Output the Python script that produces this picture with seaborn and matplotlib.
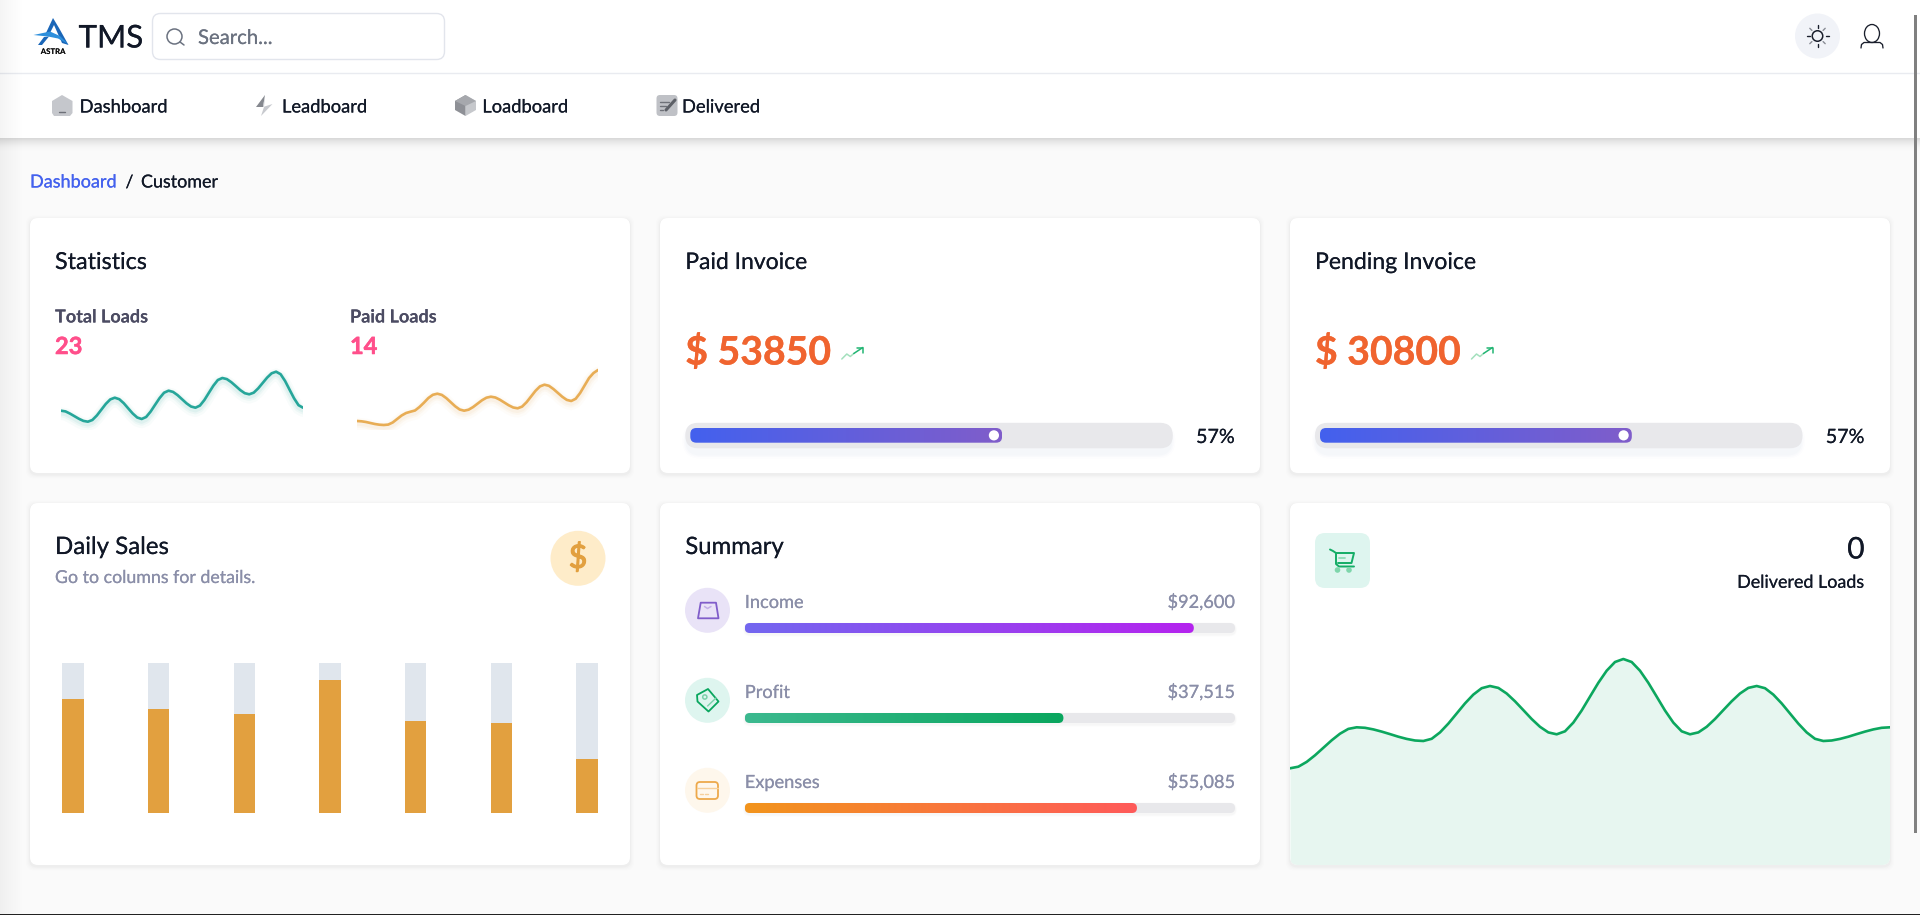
import numpy as np
import pandas as pd
import seaborn as sns
import matplotlib.pyplot as plt
import matplotlib.patheffects as pe
from matplotlib.patches import FancyBboxPatch, Ellipse, Polygon, Rectangle
from matplotlib.colors import LinearSegmentedColormap

# Total Loads / Paid Loads sparklines
total_loads = [19.3, 18.6, 16.4, 13.8, 11.2, 9.1, 8.3,
               10, 14.5, 20.3, 26.1, 30.6, 32.3,
               30.8, 26.8, 21.6, 16.5, 12.5, 11,
               13, 18.4, 25.2, 31.9, 37.3, 39.3,
               38.1, 34.9, 30.8, 26.7, 23.5, 22.3,
               24.4, 30, 37.2, 44.3, 50, 52,
               50.9, 47.8, 43.9, 39.9, 36.8, 35.7,
               37.3, 41.6, 47, 52.4, 56.7, 58.3,
               55.8, 49, 40.3, 31.7, 24.8, 22.3]
paid_loads = [9, 8.7, 8, 7, 6, 5.3, 5,
              5.4, 7.5, 11, 14.5, 17, 18.3,
              19.5, 23, 27.3, 32, 35.2, 36.3,
              35.1, 31.9, 27.8, 23.7, 20.5, 19.3,
              20.3, 22.9, 26.3, 29.7, 32.3, 33.3,
              32.5, 30.3, 27.5, 24.7, 22.5, 21.7,
              23.4, 27.8, 33.5, 39.2, 43.6, 45.3,
              44.2, 41, 37.1, 33.2, 30.1, 29,
              31.2, 37, 44.5, 52, 57, 60]

# Daily Sales columns (percent of the grey column)
days = ['d1', 'd2', 'd3', 'd4', 'd5', 'd6', 'd7']
daily_sales = [76, 69.3, 65.7, 88.6, 61.2, 59.7, 36]
daily_total = [100, 100, 100, 100, 100, 100, 100]

# Delivered Loads area
delivered = [95.7, 97.3, 102.1, 108.7, 116.2, 123.7, 130.3, 135.1, 136.7,
             136.2, 134.6, 132.4, 129.9, 127.3, 125.1, 123.5, 123,
             125.2, 131.6, 140.4, 150.5, 160.6, 169.4, 175.8, 178,
             176.1, 170.5, 162.7, 153.9, 145, 137.2, 131.6, 129.7,
             132.7, 141.4, 153.5, 167.4, 181.2, 193.3, 202, 205,
             202, 193.3, 181.2, 167.4, 153.5, 141.4, 132.7, 129.7,
             131.6, 137.2, 145, 153.9, 162.7, 170.5, 176.1, 178,
             175.8, 169.4, 160.6, 150.5, 140.4, 131.6, 125.2, 123,
             123.5, 125.1, 127.3, 129.9, 132.4, 134.6, 136.2, 136.7]

# Summary rows
summary_labels = ['Income', 'Profit', 'Expenses']
summary_amounts = ['$92,600', '$37,515', '$55,085']
summary_fill = [91.6, 65, 80]

# Invoice cards
invoice_titles = ['Paid Invoice', 'Pending Invoice']
invoice_amounts = ['$ 53850', '$ 30800']
invoice_labels = ['57%', '57%']
invoice_fill = [65.3, 65.3]

nav_items = ['Dashboard', 'Leadboard', 'Loadboard', 'Delivered']

FONT = 'Lato'
INK = '#111827'
MUTED = '#8a8ea8'
plt.rcParams['font.family'] = [FONT, 'DejaVu Sans']

W, H = 1920, 915
fig = plt.figure(figsize=(W / 100, H / 100), dpi=100, facecolor='#fafafa')
ax = fig.add_axes([0, 0, 1, 1])
ax.set_xlim(0, W)
ax.set_ylim(H, 0)
ax.axis('off')


def inset(x0, y0, x1, y1):
    # axes placed with pixel edges, y counted from the top
    a = fig.add_axes([x0 / W, 1 - y1 / H, (x1 - x0) / W, (y1 - y0) / H])
    a.axis('off')
    a.patch.set_alpha(0)
    return a


def txt(x, y, s, size=12.6, color=INK, ha='left', weight='normal', thick=0.1):
    # the thin stroke brings Lato closer to the heavier webfont
    t = ax.text(x, y, s, fontsize=size, color=color, ha=ha, va='center_baseline', fontweight=weight, zorder=4)
    t.set_path_effects([pe.withStroke(linewidth=thick, foreground=color)])


def box(x, y, w, h, r, **kw):
    p = FancyBboxPatch((x, y), w, h, boxstyle=f'round,pad=0,rounding_size={r}', linewidth=kw.pop('lw', 0), **kw)
    ax.add_patch(p)
    return p


def circle(x, y, r, **kw):
    ax.add_patch(Ellipse((x, y), 2 * r, 2 * r, **kw))


def stroke(xs, ys, color, lw=1.4, **kw):
    ax.plot(xs, ys, color=color, lw=lw, solid_capstyle='round', solid_joinstyle='round', **kw)


def card(x, y, w, h):
    for grow, alpha in [(4, 0.006), (3, 0.008), (2, 0.012), (1, 0.02)]:
        box(x - grow, y - grow + 1.5, w + 2 * grow, h + 2 * grow, 8, facecolor='black', alpha=alpha, zorder=0.9)
    return box(x, y, w, h, 8, facecolor='white', zorder=1)


def progress(x0, x1, y0, y1, value, colors, radius=None):
    # gradient bar on a 0-100 axes, width comes from the value
    a = inset(x0, y0, x1, y1)
    a.set_xlim(0, 100)
    a.set_ylim(0, 1)
    ux = 100 / (x1 - x0)
    uy = 1 / (y1 - y0)
    r = radius if radius else (y1 - y0) / 2
    clip = FancyBboxPatch((0, 0), value, 1, boxstyle=f'round,pad=0,rounding_size={r * ux}',
                          mutation_aspect=uy / ux, linewidth=0, facecolor='none', transform=a.transData)
    a.add_patch(clip)
    cmap = LinearSegmentedColormap.from_list('bar', colors)
    im = a.imshow(np.linspace(0, 1, 256).reshape(1, -1), cmap=cmap, extent=(0, value, 0, 1), aspect='auto')
    im.set_clip_path(clip)
    a.set_xlim(0, 100)
    a.set_ylim(0, 1)
    return a, ux


# page chrome
ax.add_patch(Rectangle((0, 0), W, 138, facecolor='white', zorder=0.5))
for i in range(14):
    ax.add_patch(Rectangle((0, 138 + i), W, 1, facecolor='black', alpha=0.13 * (1 - i / 14) ** 2, lw=0, zorder=0.4))
ax.plot([0, W], [72.5, 72.5], color='#e9ebf0', lw=1, zorder=0.6)
ax.imshow(np.linspace(0, 1, 64).reshape(1, -1), extent=(0, 24, H, 0), aspect='auto', zorder=0.7,
          cmap=LinearSegmentedColormap.from_list('edge', [(0, 0, 0, 0.045), (0, 0, 0, 0)]))
ax.set_xlim(0, W)
ax.set_ylim(H, 0)
ax.add_patch(Rectangle((1914, 15), 2.6, 818, facecolor='#808080', lw=0, zorder=3))
ax.add_patch(Rectangle((0, 913.5), W, 1.5, facecolor='#222222', lw=0, zorder=3))

# logo
ax.add_patch(Polygon([[53, 18], [46, 33], [49, 35], [54, 25], [62, 43], [68.5, 45], [59, 28]], facecolor='#1a66b8', lw=0, zorder=2))
ax.add_patch(Polygon([[33.5, 35], [50, 31.5], [60, 36], [68, 44], [58, 38.5], [48, 36.5]], facecolor='#2d8fdc', lw=0, zorder=2))
ax.add_patch(Polygon([[44, 37], [49, 36.5], [42, 45], [38, 45]], facecolor='#1a66b8', lw=0, zorder=2))
txt(53, 51, 'ASTRA', size=5.6, color='#111111', ha='center', weight='bold', thick=0)
txt(78.5, 36, 'TMS', size=22.6, color=INK)

# search box
box(152.5, 13.5, 292, 46, 8, facecolor='white', edgecolor='#e2e5ec', lw=1, zorder=2)
ax.add_patch(Ellipse((174.5, 36.5), 15, 15, facecolor='none', edgecolor='#6b7280', lw=1.1, zorder=2))
stroke([180, 184], [42, 45], '#6b7280', lw=1.1, zorder=2)
txt(198, 37, 'Search...', size=14.6, color='#6b7280')

# sun and user icons
circle(1817.5, 36, 22.5, facecolor='#f1f3f8', zorder=2)
ax.add_patch(Ellipse((1817.5, 36), 10.5, 10.5, facecolor='none', edgecolor='#1a1f2c', lw=1.1, zorder=3))
for dx, dy, c in [(0, -1, '#1a1f2c'), (0, 1, '#1a1f2c'), (-1, 0, '#1a1f2c'), (1, 0, '#1a1f2c'),
                  (-.7, -.7, '#8a8d96'), (.7, -.7, '#8a8d96'), (-.7, .7, '#8a8d96'), (.7, .7, '#8a8d96')]:
    stroke([1817.5 + 8 * dx, 1817.5 + 11 * dx], [36 + 8 * dy, 36 + 11 * dy], c, lw=1, zorder=3)
ax.add_patch(Ellipse((1872, 33.5), 15, 18, facecolor='none', edgecolor='#1a1f2c', lw=0.95, zorder=3))
stroke([1861, 1861.5, 1864, 1880, 1882.5, 1883], [48, 44.5, 42.5, 42.5, 44.5, 48], '#1a1f2c', lw=0.95, zorder=3)

# nav
for name, x in zip(nav_items, [79.6, 282, 482.3, 682]):
    txt(x, 106, name, size=13.2, color=INK)
ax.add_patch(Polygon([[62, 95], [72.5, 101], [72.5, 113], [70, 116], [54, 116], [52, 113], [52, 101]], facecolor='#c5c7cc', lw=0, zorder=2))
stroke([59, 65], [112, 112], '#6d7078', lw=1, zorder=3)
ax.add_patch(Polygon([[265, 95], [256, 107], [263, 107]], facecolor='#85888f', lw=0, zorder=2))
ax.add_patch(Polygon([[265, 95], [263, 107], [272.5, 104], [261, 116], [264, 107]], facecolor='#c8cacf', lw=0, zorder=2))
ax.add_patch(Polygon([[465.5, 95], [476, 101], [476, 110], [465.5, 116]], facecolor='#c6c8cc', lw=0, zorder=2))
ax.add_patch(Polygon([[465.5, 95], [455, 101], [455, 110], [465.5, 116], [465.5, 105]], facecolor='#8e9096', lw=0, zorder=2))
ax.add_patch(Polygon([[465.5, 95], [455, 101], [465.5, 106], [476, 101]], facecolor='#a6a8ad', lw=0, zorder=3))
box(656.5, 95, 21, 21, 3.5, facecolor='#bfc1c6', zorder=2)
for y0, x1 in [(101.5, 669), (105.5, 666), (109.5, 663)]:
    stroke([660, x1], [y0, y0], '#6e7178', lw=1, zorder=3)
stroke([666, 675], [110, 100], '#5d6067', lw=2.2, zorder=3)

# breadcrumb
txt(30, 181, 'Dashboard', size=13, color='#4361ee')
txt(125.5, 181, '/', size=12.6, color=INK)
txt(141, 181, 'Customer', size=12.9, color=INK)

# cards
card(30, 218, 600, 255)
card(660, 218, 600, 255)
card(1290, 218, 600, 255)
card(30, 503, 600, 362)
card(660, 503, 600, 362)
area_card = card(1290, 503, 600, 362)
txt(55, 260.5, 'Statistics', size=16.8)
txt(685.3, 260.5, invoice_titles[0], size=16.5)
txt(1315, 260.5, invoice_titles[1], size=16.6)

# statistics
txt(55, 315.5, 'Total Loads', size=13, color='#4c4c63', weight='bold', thick=0)
txt(350, 315.5, 'Paid Loads', size=13, color='#4c4c63', weight='bold', thick=0)
txt(55, 344.5, '23', size=17, color='#ff4f8b', weight='bold', thick=0.4)
txt(350, 344.5, '14', size=17, color='#ff4f8b', weight='bold', thick=0.4)

for values, x0, x1, color in [(total_loads, 61, 303, '#26a69a'), (paid_loads, 357, 598, '#e8ad55')]:
    df = pd.DataFrame({'step': range(len(values)), 'loads': values})
    a = inset(x0, 360, x1, 430)
    # soft glow under the line
    for lw, alpha, off in [(9, 0.03, -3), (6, 0.05, -2.5), (4, 0.07, -2)]:
        sns.lineplot(data=df.assign(loads=df['loads'] + off), x='step', y='loads', ax=a, color=color,
                     lw=lw, alpha=alpha, estimator=None, solid_capstyle='round')
    sns.lineplot(data=df, x='step', y='loads', ax=a, color=color, lw=1.9, estimator=None, solid_capstyle='round')
    a.set_xlim(0, len(values) - 1)
    a.set_ylim(0, 70)
    a.axis('off')

# invoice cards
for x, amount, label, fill in zip([685.3, 1315], invoice_amounts, invoice_labels, invoice_fill):
    txt(x, 349.5, amount, size=28.2, color='#f0642f', weight='bold', thick=0.2)
    ax_x = x + 167.5
    stroke([ax_x - 11, ax_x - 6, ax_x - 2.5, ax_x + 1], [359, 354, 356.5, 353.5], '#a3e0bd', lw=1.1, zorder=2)
    stroke([ax_x + 1, ax_x + 10], [353.5, 347.5], '#22b573', lw=1.1, zorder=2)
    stroke([ax_x + 4, ax_x + 10.5, ax_x + 10.5], [347.5, 347.5, 353], '#22b573', lw=1.1, zorder=2)
    for grow, alpha in [(5, 0.012), (3.5, 0.018), (2, 0.025)]:
        box(x - grow + 2, 423 + 5 - grow, 487 + 2 * grow - 4, 25.5 + 2 * grow, 13 + grow, facecolor='#5b7bc0', alpha=alpha, zorder=1.5)
    box(x, 422.8, 487.5, 25.5, 12.7, facecolor='#e8e8eb', zorder=2)
    a, ux = progress(x + 5, x + 482.5, 428, 442.7, fill, ['#4361ee', '#805dca'], radius=6)
    tx = fill - 8.2 * ux
    a.add_patch(Ellipse((tx, 0.5), 10.2 * ux, 10.2 / 14.7, facecolor='white', lw=0, zorder=5))
    txt(x + 549.6, 436, label, size=14.2, color=INK, ha='right')

# daily sales
txt(55, 545.5, 'Daily Sales', size=17.3)
txt(55, 576.5, 'Go to columns for details.', size=12.8, color=MUTED)
circle(578, 558.3, 27.5, facecolor='#feecc9', zorder=2)
dollar = ax.text(578, 558.3, '$', fontsize=23, color='#e2a03f', ha='center', va='center', zorder=3)
dollar.set_path_effects([pe.withStroke(linewidth=0.9, foreground='#e2a03f')])

sales_df = pd.DataFrame({'day': days, 'sales': daily_sales, 'total': daily_total})
a = inset(30, 663, 630, 812.7)
sns.barplot(data=sales_df, x='day', y='total', ax=a, color='#e0e6ed', width=0.25, saturation=1)
sns.barplot(data=sales_df, x='day', y='sales', ax=a, color='#e2a03f', width=0.25, saturation=1)
a.set_xlim(-0.5, 6.5)
a.set_ylim(0, 100)
a.axis('off')

# summary
txt(685.3, 545.5, 'Summary', size=17.2)
summary_colors = [['#7367f0', '#b523ee'], ['#3cb98f', '#09a65e'], ['#f2941c', '#ff5a5a']]
circle_colors = ['#e9e3f7', '#def5ef', '#fef7ec']
for i, (label, amount, fill) in enumerate(zip(summary_labels, summary_amounts, summary_fill)):
    dy = 90 * i
    circle(707.5, 610.3 + dy, 22.5, facecolor=circle_colors[i], zorder=2)
    txt(744.8, 601.5 + dy, label, size=13.1, color=MUTED)
    txt(1235, 601 + dy, amount, size=13.1, color=MUTED, ha='right')
    for grow, alpha in [(2, 0.012), (1, 0.02)]:
        box(745 - grow, 623 + 1.5 + dy - grow, 490 + 2 * grow, 10 + 2 * grow, 5 + grow, facecolor='black', alpha=alpha, zorder=1.5)
    box(744.8, 623 + dy, 490.2, 10, 5, facecolor='#e8e8eb', zorder=2)
    progress(744.8, 1235, 623 + dy, 633 + dy, fill, summary_colors[i])

# summary icons
ax.add_patch(Polygon([[700.7, 602.7], [716, 602.7], [718.5, 618.3], [698, 618.3]], closed=True, facecolor='none',
                     edgecolor='#805dca', lw=1.3, joinstyle='round', zorder=3))
stroke([704.5, 707.5, 711], [606.5, 608.5, 606.5], '#c3aee8', lw=1.1, zorder=3)
ax.add_patch(Polygon([[697, 695], [708, 689], [718.5, 701.5], [708.5, 711.5], [697.5, 701.5]], closed=True,
                     facecolor='none', edgecolor='#09a65e', lw=1.3, joinstyle='round', zorder=3))
ax.add_patch(Ellipse((704.8, 697), 4.2, 4.2, facecolor='none', edgecolor='#7bd0a9', lw=1.1, zorder=3))
stroke([707.6, 716], [706, 698], '#7bd0a9', lw=1, zorder=3)
box(696.5, 782, 21.5, 17, 3.5, facecolor='none', edgecolor='#eda94b', lw=1.3, zorder=3)
stroke([697, 717.5], [787.5, 787.5], '#f6d09c', lw=1, zorder=3)
stroke([700, 703], [794, 794], '#f6d09c', lw=1, zorder=3)
stroke([705, 708], [794, 794], '#f6d09c', lw=1, zorder=3)

# delivered loads card
box(1315, 533, 55, 55, 10, facecolor='#def5ef', zorder=2)
stroke([1330, 1333, 1336, 1336, 1339, 1354], [549.5, 551, 553, 564, 566.5, 566.5], '#13ad66', lw=1.4, zorder=3)
stroke([1336, 1354, 1351.5, 1338], [553, 553, 563, 563], '#13ad66', lw=1.4, zorder=3)
stroke([1339, 1345], [557.5, 557.5], '#8edcb6', lw=1.3, zorder=3)
for cx in [1337.5, 1349]:
    circle(cx, 570, 2.8, facecolor='#7ed6ab', zorder=3)
txt(1864.5, 547, '0', size=21.5, ha='right')
txt(1864.5, 581.3, 'Delivered Loads', size=12.9, ha='right')

area_df = pd.DataFrame({'step': range(len(delivered)), 'loads': delivered})
a = inset(1290, 640, 1890, 864)
a.fill_between(area_df['step'], 0, area_df['loads'], color='#e7f6f0', lw=0, clip_path=area_card)
sns.lineplot(data=area_df, x='step', y='loads', ax=a, color='#0ca75e', lw=1.9, estimator=None)
a.set_xlim(0, len(delivered) - 1)
a.set_ylim(0, 224)
a.axis('off')

fig.savefig('out.png', dpi=100, facecolor=fig.get_facecolor())
plt.close(fig)
